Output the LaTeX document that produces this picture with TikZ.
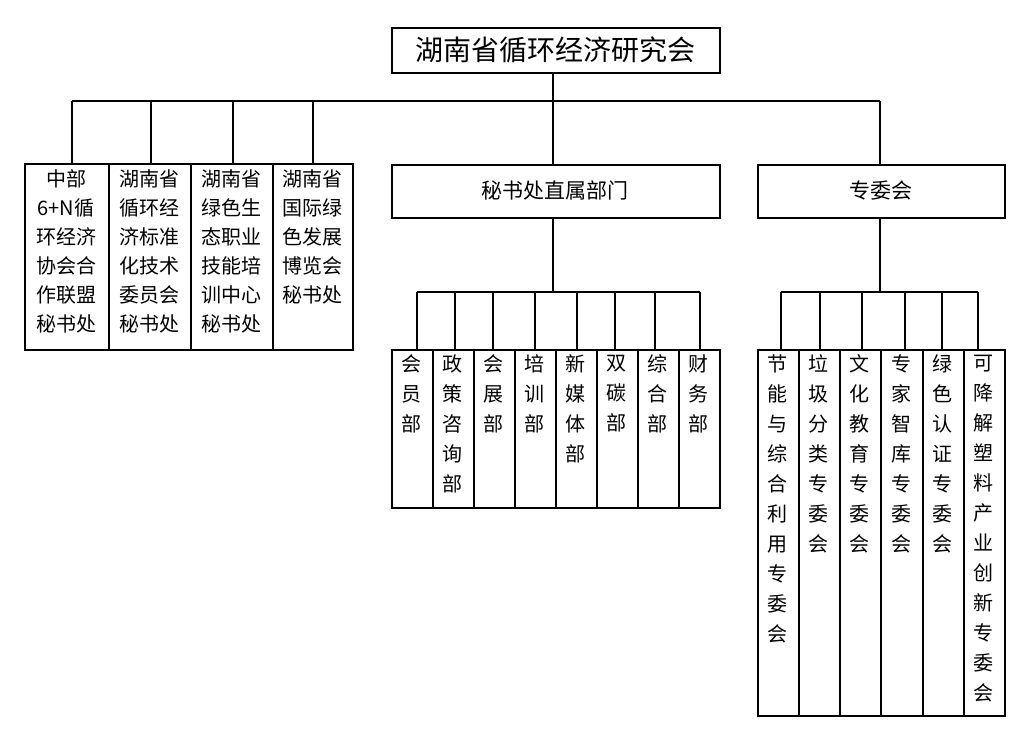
\documentclass[tikz,border=0pt]{standalone}
\usepackage{fontspec}
\setmainfont{Noto Sans CJK SC}
\begin{document}
\begin{tikzpicture}[x=1pt,y=-1pt,line width=1.6pt,
 cell/.style={draw,rectangle,inner sep=0pt,anchor=north west,line width=1.6pt},
 txt/.style={font=\fontsize{20}{29}\selectfont,align=center,anchor=north,inner sep=0pt},
 vtxt/.style={font=\fontsize{20}{30}\selectfont,align=center,anchor=north,inner sep=0pt}]
\useasboundingbox (0,0) rectangle (1032,733);
% title
\node[cell,minimum width=328pt,minimum height=45pt] (title) at (391,27) {};
\node[font=\fontsize{28}{30}\selectfont] (titletext) at (555,49.5) {湖南省循环经济研究会};
\coordinate (hub) at (553,101);
\coordinate (hl) at (72,101);
\coordinate (hr) at (880,101);
\draw (title.south -| hub) -- (hub);
\draw (hl) -- (hr);
% left group
\foreach \a/\b/\n/\t in {24/108/l1/{中部\\6+N循\\环经济\\协会合\\作联盟\\秘书处},
 108/190/l2/{湖南省\\循环经\\济标准\\化技术\\委员会\\秘书处},
 190/272/l3/{湖南省\\绿色生\\态职业\\技能培\\训中心\\秘书处},
 272/352/l4/{湖南省\\国际绿\\色发展\\博览会\\秘书处}}{
 \node[cell,minimum width={\b-\a},minimum height=186pt] (\n) at (\a,163) {};
 \node[txt] (\n t) at ({(\a+\b)/2},169) {\t};
}
\foreach \x/\n in {72/l1,151/l2,233/l3,313/l4}{
 \coordinate (d\n) at (\x,101);
 \draw (d\n) -- (\x,163);
}
% middle
\node[cell,minimum width=328pt,minimum height=53pt] (mid) at (391,164) {};
\node[font=\fontsize{21}{24}\selectfont] (midt) at (555,190.5) {秘书处直属部门};
\draw (hub) -- (mid.north -| hub);
\coordinate (mh) at (553,292);
\coordinate (mhl) at (417,292);
\coordinate (mhr) at (700,292);
\draw (mid.south -| mh) -- (mh);
\draw (mhl) -- (mhr);
\foreach \a/\b/\d/\n/\t in {391/432/417/m1/{会\\员\\部},432/473/455/m2/{政\\策\\咨\\询\\部},
 473/514/493/m3/{会\\展\\部},514/555/535/m4/{培\\训\\部},555/596/577/m5/{新\\媒\\体\\部},
 596/637/615/m6/{双\\碳\\部},637/678/655/m7/{综\\合\\部},678/719/700/m8/{财\\务\\部}}{
 \node[cell,minimum width={\b-\a},minimum height=158pt] (\n) at (\a,349) {};
 \node[vtxt] (\n t) at ({(\a+\b)/2},354) {\t};
 \coordinate (\n c) at (\d,292);
 \draw (\n c) -- (\d,349);
}
% right
\node[cell,minimum width=247pt,minimum height=53pt] (right) at (757,164) {};
\node[font=\fontsize{21}{24}\selectfont] (rightt) at (880.5,190.5) {专委会};
\draw (hr) -- (right.north -| hr);
\coordinate (rh) at (880,292);
\coordinate (rhl) at (781,292);
\coordinate (rhr) at (978,292);
\draw (right.south -| rh) -- (rh);
\draw (rhl) -- (rhr);
\foreach \a/\b/\d/\n/\t in {757/798/781/r1/{节\\能\\与\\综\\合\\利\\用\\专\\委\\会},
 798/839/820/r2/{垃\\圾\\分\\类\\专\\委\\会},839/880/862/r3/{文\\化\\教\\育\\专\\委\\会},
 880/922/905/r4/{专\\家\\智\\库\\专\\委\\会},922/963/942/r5/{绿\\色\\认\\证\\专\\委\\会},
 963/1004/978/r6/{可\\降\\解\\塑\\料\\产\\业\\创\\新\\专\\委\\会}}{
 \node[cell,minimum width={\b-\a},minimum height=366pt] (\n) at (\a,349) {};
 \node[vtxt] (\n t) at ({(\a+\b)/2},354) {\t};
 \coordinate (\n c) at (\d,292);
 \draw (\n c) -- (\d,349);
}
\end{tikzpicture}
\end{document}
